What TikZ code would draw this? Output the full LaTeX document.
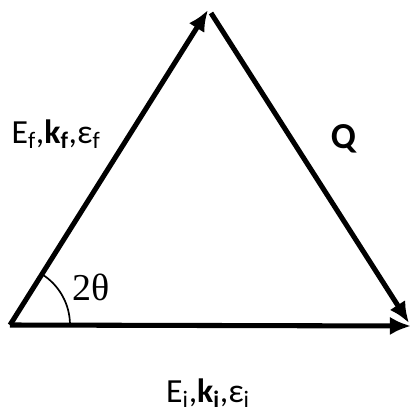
\documentclass[tikz,border=0pt]{standalone}
\usepackage{fontspec}
\setmainfont{Carlito}
\newfontfamily\serifface{Liberation Serif}
\usetikzlibrary{arrows.meta}

\begin{document}
\begin{tikzpicture}[
  x=0.025cm,y=-0.025cm,
  every node/.style={font=\fontsize{24}{28}\selectfont},
  vec/.style={line width=3.6pt,-{Latex[length=15pt,width=13pt]}},
  anglearc/.style={line width=1.2pt}
]
  \useasboundingbox (0,0) rectangle (410,419);
  % triangle corners
  \coordinate (origin) at (10,325);
  \coordinate (apex) at (208,10);
  \coordinate (apexR) at (211,13);
  \coordinate (corner) at (411,326);
  \coordinate (cornerQ) at (409,323);
  % wave vectors
  \draw[vec] (origin) -- (apex);
  \draw[vec] (origin) -- (corner);
  \draw[vec] (apexR) -- (cornerQ);
  % scattering angle
  \draw[anglearc] (70,325) arc[start angle=0,end angle=-58,radius=60];
  \node (angle) at (91,287) {\serifface\fontsize{27}{30}\selectfont 2θ};
  % labels
  \node (final) at (56,134) {E\textsubscript{f},\textbf{k\textsubscript{f}},ε\textsubscript{f}};
  \node (transfer) at (344,139) {\fontsize{26}{30}\selectfont\textbf{Q}};
  \node (initial) at (208,393) {E\textsubscript{i},\textbf{k\textsubscript{i}},ε\textsubscript{i}};
\end{tikzpicture}
\end{document}
